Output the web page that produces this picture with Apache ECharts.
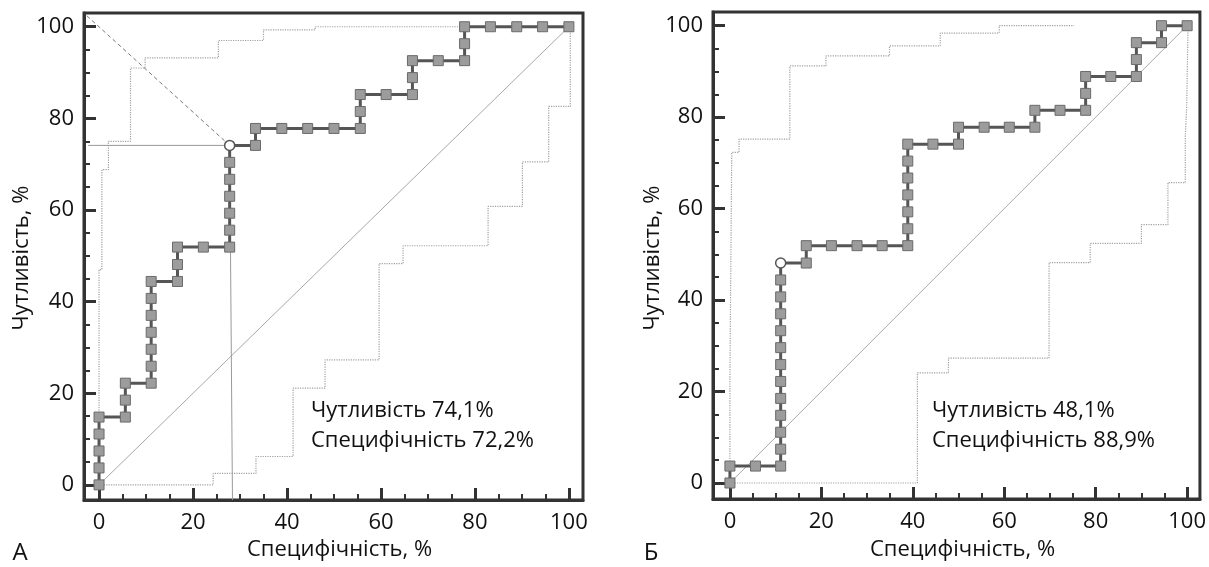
<!DOCTYPE html>
<html>
<head>
<meta charset="utf-8">
<script src="https://cdn.jsdelivr.net/npm/echarts@6/dist/echarts.min.js"></script>
<style>
html,body{margin:0;padding:0;background:#fff;}
#chart{width:1209px;height:567px;}
</style>
</head>
<body>
<div id="chart"></div>
<script>
// ---- tick labels ----
const majorTicks = [0, 20, 40, 60, 80, 100];
const minorTicks = [5, 10, 15, 25, 30, 35, 45, 50, 55, 65, 70, 75, 85, 90, 95];

// ---- Panel A: ROC curve (100 - specificity, sensitivity), % ----
const rocA_spec = [0,0,0,0,0,5.6,5.6,5.6,11.1,11.1,11.1,11.1,11.1,11.1,11.1,16.7,16.7,16.7,22.2,27.8,27.8,27.8,27.8,27.8,27.8,27.8,33.3,33.3,38.9,44.4,50,55.6,55.6,55.6,61.1,66.7,66.7,66.7,72.2,77.8,77.8,77.8,83.3,88.9,94.4,100];
const rocA_sens = [0,3.7,7.4,11.1,14.8,14.8,18.5,22.2,22.2,25.9,29.6,33.3,37.0,40.7,44.4,44.4,48.1,51.9,51.9,51.9,55.6,59.3,63.0,66.7,70.4,74.1,74.1,77.8,77.8,77.8,77.8,77.8,81.5,85.2,85.2,85.2,88.9,92.6,92.6,92.6,96.3,100,100,100,100,100];
const optA = [27.8, 74.1];
// confidence band, panel A
const upperA_x = [0,0,0.6,0.6,2,2,6.7,6.7,9.8,9.8,25.4,25.4,35,35,46,46,77];
const upperA_y = [0,47,47,68.8,68.8,75,75,91,91,93.2,93.2,97,97,99.3,99.3,100,100];
const lowerA_x = [0,24.3,24.3,33.4,33.4,41.3,41.3,48.1,48.1,59.6,59.6,64.7,64.7,82.8,82.8,90.1,90.1,95.7,95.7,100.3,100.3];
const lowerA_y = [0,0,2.5,2.5,6.2,6.2,21.1,21.1,27.3,27.3,48.3,48.3,52.2,52.2,60.8,60.8,70.5,70.5,82.6,82.6,100];
// cut-off guide lines, panel A
const guideA_h = [[-2.3, 74.1], [27.8, 74.1]];
const guideA_v = [[27.8, 74.1], [28.4, -3.3]];
const guideA_d = [[-2.6, 102.4], [27.8, 74.1]];
const textA = ['Чутливість 74,1%', 'Специфічність 72,2%'];

// ---- Panel Б ----
const rocB_spec = [0,0,5.6,11.1,11.1,11.1,11.1,11.1,11.1,11.1,11.1,11.1,11.1,11.1,11.1,11.1,16.7,16.7,22.2,27.8,33.3,38.9,38.9,38.9,38.9,38.9,38.9,38.9,44.4,50,50,55.6,61.1,66.7,66.7,72.2,77.8,77.8,77.8,83.3,88.9,88.9,88.9,94.4,94.4,100];
const rocB_sens = [0,3.7,3.7,3.7,7.4,11.1,14.8,18.5,22.2,25.9,29.6,33.3,37.0,40.7,44.4,48.1,48.1,51.9,51.9,51.9,51.9,51.9,55.6,59.3,63.0,66.7,70.4,74.1,74.1,74.1,77.8,77.8,77.8,77.8,81.5,81.5,81.5,85.2,88.9,88.9,88.9,92.6,96.3,96.3,100,100];
const optB = [11.1, 48.1];
const upperB_x = [0,0,0.4,0.4,2,2,13.1,13.1,21,21,34.9,34.9,46,46,58.9,58.9,75.3];
const upperB_y = [0,23.3,23.3,72.3,72.3,75.2,75.2,91.2,91.2,93.4,93.4,95.6,95.6,98.4,98.4,100,100];
const lowerB_x = [0,41,41,47.8,47.8,69.8,69.8,78.8,78.8,90,90,95.8,95.8,99.6,99.6,99.9,99.9,100.2,100.2];
const lowerB_y = [0,0,24.1,24.1,27.3,27.3,48.2,48.2,52.4,52.4,56.5,56.5,65.7,65.7,76.1,76.1,82.3,82.3,100];
const textB = ['Чутливість 48,1%', 'Специфічність 88,9%'];

const xTitle = 'Специфічність, %';
const yTitle = 'Чутливість, %';
const panelLetters = ['А', 'Б'];
const diag = [[0, 0], [100, 100]];

// ---------------- build ----------------
const FONT = '"Open Sans", "Noto Sans", sans-serif';
const FS = 22;
const AX = '#333';
const TXT = '#111';
const zip = (a, b) => a.map((v, i) => [v, b[i]]);

const panels = [
  {grid:{left:84, top:13, width:499, height:487}, xr:[-3.2,103], yr:[-3.3,103],
   spec:rocA_spec, sens:rocA_sens, opt:optA, up:zip(upperA_x,upperA_y), lo:zip(lowerA_x,lowerA_y),
   guides:true, text:textA, textX:311, letter:panelLetters[0], letterX:20, yTitleX:22},
  {grid:{left:713, top:12, width:487, height:487}, xr:[-3.7,102.8], yr:[-3.5,103],
   spec:rocB_spec, sens:rocB_sens, opt:optB, up:zip(upperB_x,upperB_y), lo:zip(lowerB_x,lowerB_y),
   guides:false, text:textB, textX:932, letter:panelLetters[1], letterX:651, yTitleX:653}
];

const grids = [], xAxes = [], yAxes = [], series = [], graphics = [];

panels.forEach((p, i) => {
  grids.push(Object.assign({show:true, borderColor:AX, borderWidth:3, backgroundColor:'rgba(0,0,0,0)'}, p.grid));
  const common = {gridIndex:i, type:'value', splitLine:{show:false}};
  xAxes.push(Object.assign({}, common, {min:p.xr[0], max:p.xr[1], position:'bottom',
    axisLine:{show:true, onZero:false, lineStyle:{color:AX, width:3}},
    axisTick:{show:true, inside:true, length:12, customValues:majorTicks, lineStyle:{color:AX, width:3}},
    axisLabel:{show:true, customValues:majorTicks, margin:12, fontSize:FS, color:TXT, fontFamily:FONT}}));
  xAxes.push(Object.assign({}, common, {min:p.xr[0], max:p.xr[1], position:'bottom',
    axisLine:{show:false, onZero:false},
    axisTick:{show:true, inside:true, length:6, customValues:minorTicks, lineStyle:{color:AX, width:2}},
    axisLabel:{show:false}}));
  yAxes.push(Object.assign({}, common, {min:p.yr[0], max:p.yr[1], position:'left',
    axisLine:{show:true, onZero:false, lineStyle:{color:AX, width:3}},
    axisTick:{show:true, inside:true, length:12, customValues:majorTicks, lineStyle:{color:AX, width:3}},
    axisLabel:{show:true, customValues:majorTicks, margin:10, fontSize:FS, color:TXT, fontFamily:FONT}}));
  yAxes.push(Object.assign({}, common, {min:p.yr[0], max:p.yr[1], position:'left',
    axisLine:{show:false, onZero:false},
    axisTick:{show:true, inside:true, length:6, customValues:minorTicks, lineStyle:{color:AX, width:2}},
    axisLabel:{show:false}}));

  const xi = 2 * i, yi = 2 * i;
  const line = (data, style, z) => ({type:'line', xAxisIndex:xi, yAxisIndex:yi, data:data,
    symbol:'none', silent:true, lineStyle:style, z:z || 2, animation:false});

  series.push(line(diag, {color:'#a8a8a8', width:1}));
  series.push(line(p.up, {color:'#a0a0a0', width:1.2, type:'dotted'}));
  series.push(line(p.lo, {color:'#a0a0a0', width:1.2, type:'dotted'}));
  if (p.guides) {
    series.push(line(guideA_h, {color:'#999', width:1}));
    series.push(line(guideA_v, {color:'#999', width:1}));
    series.push(line(guideA_d, {color:'#777', width:1, type:[4, 3]}));
  }
  const rocData = p.spec.map((x, k) => {
    const y = p.sens[k];
    if (x === p.opt[0] && y === p.opt[1]) {
      return {value:[x, y], symbol:'circle', symbolSize:10,
        itemStyle:{color:'#fff', borderColor:'#555', borderWidth:1.5}};
    }
    return [x, y];
  });
  series.push({type:'line', xAxisIndex:xi, yAxisIndex:yi, data:rocData, z:5,
    symbol:'rect', symbolSize:10, showAllSymbol:true, animation:false, silent:true,
    lineStyle:{color:'#555', width:3},
    itemStyle:{color:'#9c9c9c', borderColor:'#6a6a6a', borderWidth:1}});

  const f = FS + 'px ' + FONT;
  graphics.push({type:'text', x:p.textX, y:411, style:{text:p.text[0], font:f, fill:TXT, textVerticalAlign:'middle'}});
  graphics.push({type:'text', x:p.textX, y:441, style:{text:p.text[1], font:f, fill:TXT, textVerticalAlign:'middle'}});
  graphics.push({type:'text', x:p.grid.left + p.grid.width / 2 + 6, y:550, style:{text:xTitle, font:f, fill:TXT, textAlign:'center', textVerticalAlign:'middle'}});
  graphics.push({type:'text', x:p.yTitleX, y:258, rotation:Math.PI / 2, style:{text:yTitle, font:f, fill:TXT, textAlign:'center', textVerticalAlign:'middle'}});
  graphics.push({type:'text', x:p.letterX, y:553, style:{text:p.letter, font:'24px ' + FONT, fill:TXT, textAlign:'center', textVerticalAlign:'middle'}});
});

const chart = echarts.init(document.getElementById('chart'), null, {renderer:'canvas'});
chart.setOption({
  animation:false,
  backgroundColor:'#fff',
  grid:grids, xAxis:xAxes, yAxis:yAxes, series:series, graphic:graphics
});
</script>
</body>
</html>
